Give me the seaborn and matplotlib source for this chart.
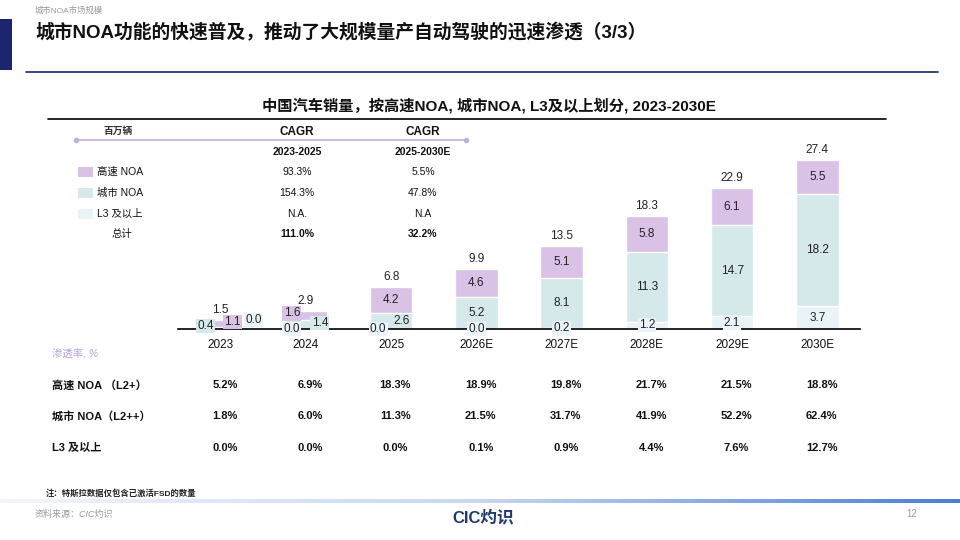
import numpy as np
import pandas as pd
import matplotlib
matplotlib.use("Agg")
import matplotlib.pyplot as plt
from matplotlib.patches import Rectangle
from matplotlib.lines import Line2D
from matplotlib.colors import LinearSegmentedColormap
from matplotlib.transforms import blended_transform_factory
import seaborn as sns

# data (million vehicles)
years = ["2023", "2024", "2025", "2026E", "2027E", "2028E", "2029E", "2030E"]
l3_plus = [0.0, 0.0, 0.0, 0.0, 0.2, 1.2, 2.1, 3.7]
city_noa = [0.4, 1.4, 2.6, 5.2, 8.1, 11.3, 14.7, 18.2]
highway_noa = [1.1, 1.6, 4.2, 4.6, 5.1, 5.8, 6.1, 5.5]
totals = [1.5, 2.9, 6.8, 9.9, 13.5, 18.3, 22.9, 27.4]

# CAGR table
cagr_rows = ["高速 NOA", "城市 NOA", "L3 及以上", "总计"]
cagr_23_25 = ["93.3%", "154.3%", "N.A.", "111.0%"]
cagr_25_30 = ["5.5%", "47.8%", "N.A", "32.2%"]

# penetration table
pen_rows = ["高速 NOA （L2+）", "城市 NOA（L2++）", "L3 及以上"]
pen_highway = ["5.2%", "6.9%", "18.3%", "18.9%", "19.8%", "21.7%", "21.5%", "18.8%"]
pen_city = ["1.8%", "6.0%", "11.3%", "21.5%", "31.7%", "41.9%", "52.2%", "62.4%"]
pen_l3 = ["0.0%", "0.0%", "0.0%", "0.1%", "0.9%", "4.4%", "7.6%", "12.7%"]

C_HW = "#d9c2e6"
C_CITY = "#d5e8ea"
C_L3 = "#eaf3f7"
NAVY = "#1c2670"

sns.set_theme(style="white")
plt.rcParams["font.family"] = ["Liberation Sans", "Noto Sans CJK SC", "DejaVu Sans"]

fig = plt.figure(figsize=(9.6, 5.4), dpi=100)
W, H = 960, 540


def fx(x):
    return x / W


def fy(y):
    return 1 - y / H


# ---- header ----
fig.text(fx(35), fy(11), "城市NOA市场规模", fontsize=6, color="#9a9a9a", va="center")
fig.add_artist(Rectangle((0, fy(70)), fx(12), (70 - 19) / H, transform=fig.transFigure,
                         color=NAVY, lw=0))
fig.text(fx(35), fy(33), "城市NOA功能的快速普及，推动了大规模量产自动驾驶的迅速渗透（3/3）",
         fontsize=13.5, fontweight="bold", va="center", color="#111111")
fig.add_artist(Line2D([fx(26), fx(938)], [fy(72), fy(72)], color=NAVY, lw=1.2,
                      transform=fig.transFigure))
fig.text(fx(489), fy(106), "中国汽车销量，按高速NOA, 城市NOA, L3及以上划分, 2023-2030E",
         fontsize=11, fontweight="bold", ha="center", va="center", color="#111111")
fig.add_artist(Line2D([fx(48), fx(886)], [fy(119), fy(119)], color="black", lw=1.2,
                      transform=fig.transFigure))

# ---- stacked bars ----
ax = fig.add_axes([fx(178), fy(329), 682 / W, 185 / H])
df = pd.DataFrame({"year": years, "l3": l3_plus, "city": city_noa, "hw": highway_noa})
df["c2"] = df["l3"] + df["city"]
df["c3"] = df["c2"] + df["hw"]

sns.barplot(data=df, x="year", y="c3", color=C_HW, saturation=1, width=0.5,
            errorbar=None, ax=ax)
sns.barplot(data=df, x="year", y="c2", color=C_CITY, saturation=1, width=0.5,
            errorbar=None, ax=ax)
sns.barplot(data=df, x="year", y="l3", color=C_L3, saturation=1, width=0.5,
            errorbar=None, ax=ax)

ax.set_xlim(-0.5, 7.5)
ax.set_ylim(0, 30)
ax.set_xlabel("")
ax.set_ylabel("")
ax.set_yticks([])
for s in ["top", "right", "left"]:
    ax.spines[s].set_visible(False)
ax.spines["bottom"].set_color("black")
ax.spines["bottom"].set_linewidth(1.2)
ax.tick_params(axis="x", length=0, pad=7, labelsize=8.5, colors="#111111")

# label nudges (pixels) for the tiny early bars
nudge = {
    (0, "city"): (-15, 2), (0, "hw"): (12, 1), (0, "l3"): (33, 9),
    (1, "hw"): (-14, 2), (1, "city"): (14, 2), (1, "l3"): (-14, 0),
    (2, "city"): (10, 0), (2, "l3"): (-13, 0),
}

for i in range(len(years)):
    segs = [("l3", l3_plus[i], 0.0, C_L3),
            ("city", city_noa[i], l3_plus[i], C_CITY),
            ("hw", highway_noa[i], l3_plus[i] + city_noa[i], C_HW)]
    for key, v, base, col in segs:
        dx, dy = nudge.get((i, key), (0, 0))
        ax.annotate(f"{v:.1f}", xy=(i, base + v / 2), xytext=(dx, dy),
                    textcoords="offset pixels", ha="center", va="center",
                    fontsize=8.5, color="#222222", annotation_clip=False,
                    bbox=dict(boxstyle="square,pad=0.1", fc=col, ec="none"))
    top = l3_plus[i] + city_noa[i] + highway_noa[i]
    ax.annotate(f"{totals[i]:.1f}", xy=(i, top), xytext=(0, 10),
                textcoords="offset pixels", ha="center", va="center",
                fontsize=8.5, color="#222222", annotation_clip=False)

# ---- CAGR legend table ----
fig.text(fx(118), fy(131), "百万辆", fontsize=7, fontweight="bold", style="italic",
         ha="center", va="center", color="#333333")
fig.add_artist(Line2D([fx(76), fx(466)], [fy(140), fy(140)], color="#c4aee0", lw=1.2,
                      marker="o", markersize=3, transform=fig.transFigure))
for xc, yr in [(297, "2023-2025"), (423, "2025-2030E")]:
    fig.text(fx(xc), fy(132), "CAGR", fontsize=8.5, fontweight="bold",
             ha="center", va="center", color="#111111")
    fig.text(fx(xc), fy(152), yr, fontsize=7.5, fontweight="bold",
             ha="center", va="center", color="#111111")

row_y = [172, 193, 214, 234]
sq_cols = [C_HW, C_CITY, C_L3]
for k, name in enumerate(cagr_rows):
    y = row_y[k]
    bold = "bold" if k == 3 else "normal"
    if k < 3:
        fig.add_artist(Rectangle((fx(78), fy(y + 5)), 15 / W, 10 / H,
                                 transform=fig.transFigure, color=sq_cols[k], lw=0))
        fig.text(fx(97), fy(y), name, fontsize=7.5, va="center", color="#111111")
    else:
        fig.text(fx(122), fy(y), name, fontsize=7.5, ha="center", va="center",
                 color="#111111")
    fig.text(fx(297), fy(y), cagr_23_25[k], fontsize=7.5, fontweight=bold,
             ha="center", va="center", color="#111111")
    fig.text(fx(423), fy(y), cagr_25_30[k], fontsize=7.5, fontweight=bold,
             ha="center", va="center", color="#111111")

# ---- penetration table ----
fig.text(fx(52), fy(354), "渗透率, %", fontsize=7.5, style="italic",
         va="center", color="#b9a3d8")
trans = blended_transform_factory(ax.transData, fig.transFigure)
for name, vals, y in zip(pen_rows, [pen_highway, pen_city, pen_l3], [385, 416, 448]):
    fig.text(fx(52), fy(y), name, fontsize=8, fontweight="bold", va="center",
             color="#111111")
    for i, v in enumerate(vals):
        ax.text(i + 0.05, fy(y), v, transform=trans, fontsize=8, fontweight="bold",
                ha="center", va="center", color="#111111")

# ---- footer ----
fig.text(fx(46), fy(493), "注：特斯拉数据仅包含已激活FSD的数量", fontsize=6,
         fontweight="bold", va="center", color="#222222")
gax = fig.add_axes([0, fy(503), 1, 4 / H])
grad = LinearSegmentedColormap.from_list("g", ["#f2f5fb", "#c8d6f0", "#4a7fd4"])
gax.imshow(np.linspace(0, 1, 256).reshape(1, -1), aspect="auto", cmap=grad)
gax.axis("off")
fig.text(fx(35), fy(514), "资料来源：CIC灼识", fontsize=6.5, style="italic",
         va="center", color="#9a9a9a")
fig.text(fx(483), fy(518), "CIC灼识", fontsize=12, fontweight="bold",
         ha="center", va="center", color="#1f3a6e")
fig.text(fx(912), fy(514), "12", fontsize=7, ha="center", va="center", color="#9a9a9a")

fig.savefig("out.png", dpi=100)
